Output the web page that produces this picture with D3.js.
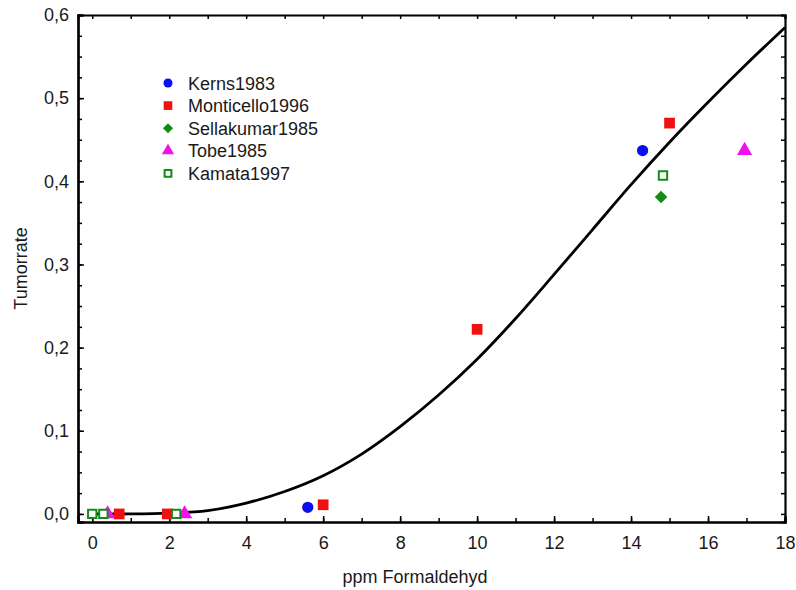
<!DOCTYPE html>
<html>
<head>
<meta charset="utf-8">
<script src="https://cdn.jsdelivr.net/npm/d3@7"></script>
<style>
  body { margin: 0; background: #fff; }
  text { font-family: "Liberation Sans", Arial, sans-serif; }
</style>
</head>
<body>
<div id="chart"></div>
<script>
// fitted dose-response curve
const curveX = [0, 1, 2, 3, 4, 5, 6, 7, 8, 9, 10, 11, 12, 13, 14, 15, 16, 17, 18];
const curveY = [0, 0, 0.001, 0.004, 0.013, 0.027, 0.046, 0.072, 0.105, 0.143, 0.186, 0.235, 0.288, 0.342, 0.396, 0.447, 0.495, 0.541, 0.585];

// studies
const studies = ['Kerns1983', 'Monticello1996', 'Sellakumar1985', 'Tobe1985', 'Kamata1997'];
const kernsX = [5.6, 14.3];
const kernsY = [0.008, 0.437];
const monticelloX = [0.7, 1.95, 6.0, 10.0, 15.0];
const monticelloY = [0.0, 0.0, 0.011, 0.222, 0.47];
const sellakumarX = [14.78];
const sellakumarY = [0.381];
const tobeX = [0.4, 2.4, 16.95];
const tobeY = [0.0, 0.0, 0.437];
const kamataX = [0.0, 0.29, 2.18, 14.83];
const kamataY = [0.0, 0.0, 0.0, 0.407];

const xTicks = [0, 2, 4, 6, 8, 10, 12, 14, 16, 18];
const yTicks = [0, 0.1, 0.2, 0.3, 0.4, 0.5, 0.6];

const W = 796;
const H = 590;
const margin = { top: 15, right: 11, bottom: 68, left: 78 };
const width = W - margin.left - margin.right;
const height = H - margin.top - margin.bottom;

const xScale = d3.scaleLinear().domain([-0.37, 18]).range([0, width]);
const yScale = d3.scaleLinear().domain([-0.0097, 0.6]).range([height, 0]);

const svg = d3.select('#chart')
  .append('svg')
  .attr('width', W)
  .attr('height', H);

const g = svg.append('g')
  .attr('transform', `translate(${margin.left},${margin.top})`);

const fmt = d => d3.format('.1f')(d).replace('.', ',');

// frame + inward ticks on all four sides
const minorX = d3.range(0, 18.01, 1);
const minorY = d3.range(0, 0.601, 0.025);

g.append('g')
  .attr('transform', `translate(0,${height})`)
  .call(d3.axisBottom(xScale).tickValues(minorX).tickSize(-4).tickFormat(''));
g.append('g')
  .call(d3.axisTop(xScale).tickValues(minorX).tickSize(-4).tickFormat(''));
g.append('g')
  .call(d3.axisLeft(yScale).tickValues(minorY).tickSize(-4).tickFormat(''));
g.append('g')
  .attr('transform', `translate(${width},0)`)
  .call(d3.axisRight(yScale).tickValues(minorY).tickSize(-4).tickFormat(''));

// labels
g.append('g')
  .attr('transform', `translate(0,${height})`)
  .call(d3.axisBottom(xScale).tickValues(xTicks).tickSize(-6).tickPadding(14).tickFormat(d3.format('d')));
g.append('g')
  .call(d3.axisLeft(yScale).tickValues(yTicks).tickSize(-6).tickPadding(9).tickFormat(fmt));

g.selectAll('.domain').attr('stroke', '#000').attr('stroke-width', 2.2);
g.selectAll('.tick line').attr('stroke', '#000').attr('stroke-width', 1.5);
g.selectAll('.tick text')
  .attr('font-size', 18)
  .attr('fill', '#1a1a1a')
  .style('font-family', '"Liberation Sans", Arial, sans-serif');

// axis titles
svg.append('text')
  .attr('x', 415)
  .attr('y', 583)
  .attr('text-anchor', 'middle')
  .attr('font-size', 18)
  .attr('fill', '#1a1a1a')
  .text('ppm Formaldehyd');

svg.append('text')
  .attr('transform', `translate(27,${margin.top + height / 2}) rotate(-90)`)
  .attr('text-anchor', 'middle')
  .attr('font-size', 18)
  .attr('fill', '#1a1a1a')
  .text('Tumorrate');

// curve
const curveData = curveX.map((x, i) => ({ x, y: curveY[i] }));
const line = d3.line()
  .x(d => xScale(d.x))
  .y(d => yScale(d.y))
  .curve(d3.curveCatmullRom);

g.append('path')
  .datum(curveData)
  .attr('fill', 'none')
  .attr('stroke', '#000')
  .attr('stroke-width', 2.8)
  .attr('d', line);

// series styles
const series = [
  { name: studies[0], xs: kernsX, ys: kernsY, type: d3.symbolCircle, size: 100, fill: '#0a0ff0', stroke: 'none' },
  { name: studies[1], xs: monticelloX, ys: monticelloY, type: d3.symbolSquare, size: 115, fill: '#f01010', stroke: 'none' },
  { name: studies[2], xs: sellakumarX, ys: sellakumarY, type: d3.symbolDiamond2, size: 100, fill: '#158a15', stroke: 'none' },
  { name: studies[3], xs: tobeX, ys: tobeY, type: d3.symbolTriangle, size: 100, fill: '#f010f0', stroke: 'none' },
  { name: studies[4], xs: kamataX, ys: kamataY, type: d3.symbolSquare, size: 70, fill: '#fff', stroke: '#158a15' },
];

series.forEach((s) => {
  const pts = s.xs.map((x, i) => ({ x, y: s.ys[i] }));
  g.selectAll(null)
    .data(pts)
    .enter()
    .append('path')
    .attr('transform', d => `translate(${xScale(d.x)},${yScale(d.y)})`)
    .attr('d', d3.symbol().type(s.type).size(s.size))
    .attr('fill', s.fill)
    .attr('stroke', s.stroke)
    .attr('stroke-width', 2);
});

// legend
const legend = svg.append('g').attr('transform', 'translate(168,83)');
series.forEach((s, i) => {
  const row = legend.append('g').attr('transform', `translate(0,${i * 22.6})`);
  row.append('path')
    .attr('d', d3.symbol().type(s.type).size(s.size * 0.65))
    .attr('fill', s.fill)
    .attr('stroke', s.stroke)
    .attr('stroke-width', 2);
  row.append('text')
    .attr('x', 20)
    .attr('y', 6.5)
    .attr('font-size', 18)
    .attr('fill', '#1a1a1a')
    .text(s.name);
});
</script>
</body>
</html>
